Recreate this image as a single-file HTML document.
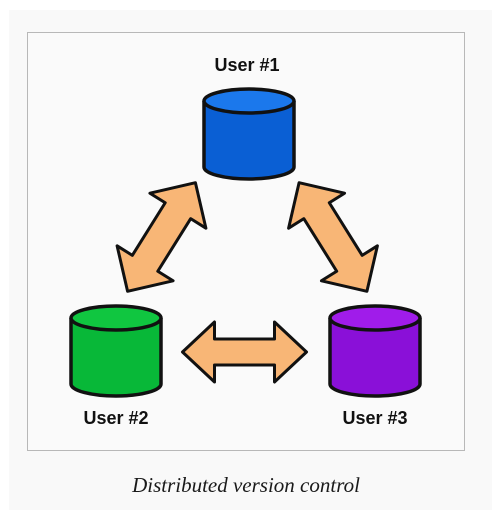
<!DOCTYPE html>
<html><head><style>
body{margin:0;width:493px;height:527px;background:#fff;overflow:hidden;}
</style></head><body>
<svg width="493" height="527" xmlns="http://www.w3.org/2000/svg">
<rect x="9" y="10" width="483" height="500" fill="#f9f9f9"/>
<rect x="27.5" y="32.5" width="437" height="418" fill="#fafafa" stroke="#b8b8b8" stroke-width="1"/>
<defs>
<polygon id="arr" points="-62,0 -30,-30 -30,-13 30,-13 30,-30 62,0 30,30 30,13 -30,13 -30,30" fill="#f8b676" stroke="#111" stroke-width="3" stroke-linejoin="round"/>
<polygon id="arr2" points="-64,0 -31,-33 -31,-15 31,-15 31,-33 64,0 31,33 31,15 -31,15 -31,33" fill="#f8b676" stroke="#111" stroke-width="3" stroke-linejoin="round"/>
</defs>
<use href="#arr" transform="translate(244.5,352)"/>
<use href="#arr2" transform="translate(161.5,237) rotate(-58)"/>
<use href="#arr2" transform="translate(333,237) rotate(58)"/>
<g stroke="#111" stroke-width="3.5">
<path d="M204,101 V167 A45,12 0 0 0 294,167 V101" fill="#0a5fd4"/>
<ellipse cx="249" cy="101" rx="45" ry="12" fill="#1b78ec"/>
<path d="M71,318 V384 A45,12 0 0 0 161,384 V318" fill="#08b838"/>
<ellipse cx="116" cy="318" rx="45" ry="12" fill="#10c640"/>
<path d="M330,318 V384 A45,12 0 0 0 420,384 V318" fill="#8a10d8"/>
<ellipse cx="375" cy="318" rx="45" ry="12" fill="#a01cea"/>
</g>
<g font-family="Liberation Sans, sans-serif" font-weight="bold" font-size="18" fill="#111" text-anchor="middle">
<text x="247" y="71">User #1</text>
<text x="116" y="424">User #2</text>
<text x="375" y="424">User #3</text>
</g>
<text x="246" y="492" font-family="Liberation Serif, serif" font-style="italic" font-size="21" fill="#1a1a1a" text-anchor="middle">Distributed version control</text>
</svg>
</body></html>
